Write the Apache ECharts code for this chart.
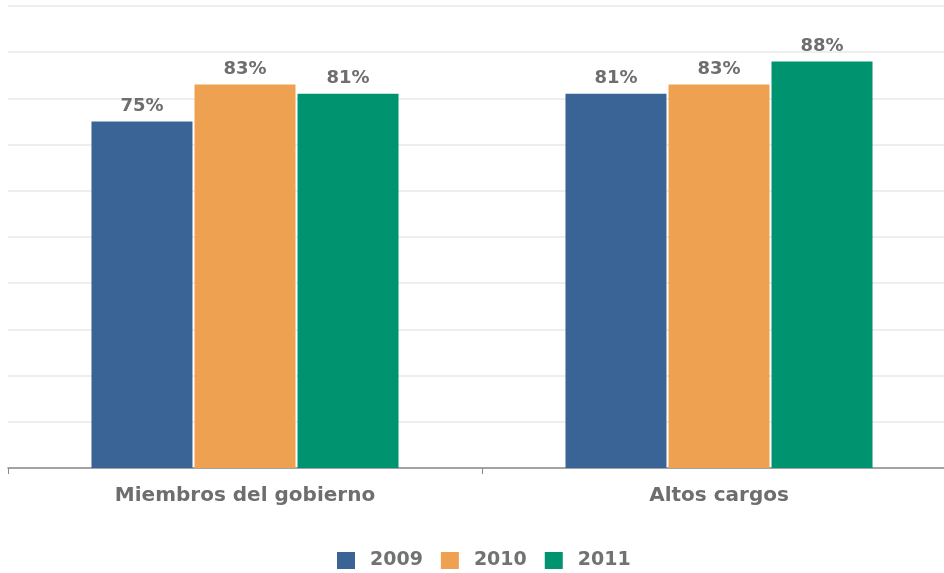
<!DOCTYPE html>
<html>
<head>
<meta charset="utf-8">
<script src="https://cdn.jsdelivr.net/npm/echarts@6/dist/echarts.min.js"></script>
<style>
  html, body { margin: 0; padding: 0; background: #ffffff; }
  #chart { width: 944px; height: 573px; }
</style>
</head>
<body>
<div id="chart"></div>
<script>
// Categories, years and percentages
const categories = ['Miembros del gobierno', 'Altos cargos'];
const years = ['2009', '2010', '2011'];
const values2009 = [75, 81];
const values2010 = [83, 83];
const values2011 = [81, 88];
const seriesValues = [values2009, values2010, values2011];
const colors = ['#3a6496', '#eea150', '#009370'];

const chart = echarts.init(document.getElementById('chart'));

const labelFont = {
  fontFamily: 'DejaVu Sans',
  fontWeight: 'bold',
  color: '#6e6e6e'
};

chart.setOption({
  animation: false,
  legend: {
    data: years,
    top: 551,
    left: 337,
    padding: 0,
    icon: 'rect',
    itemWidth: 18,
    itemHeight: 17,
    itemGap: 18,
    textStyle: { ...labelFont, fontSize: 19, color: '#727272', padding: [0, 0, 0, 10] }
  },
  // plot area runs a little past the right edge of the canvas
  grid: {
    left: 8, width: 948, top: 6, height: 462,
    containLabel: false,
    outerBoundsMode: 'none'
  },
  xAxis: {
    type: 'category',
    data: categories,
    axisLine: { lineStyle: { color: '#8a8a8a', width: 1.5 } },
    axisTick: { show: true, length: 6, lineStyle: { color: '#8a8a8a' } },
    axisLabel: { ...labelFont, fontSize: 20, margin: 18 }
  },
  yAxis: {
    type: 'value',
    min: 0,
    max: 100,
    interval: 10,
    axisLine: { show: false },
    axisTick: { show: false },
    axisLabel: { show: false },
    splitLine: { lineStyle: { color: '#e8e8e8', width: 1.5 } }
  },
  series: years.map((y, i) => ({
    name: y,
    type: 'bar',
    data: seriesValues[i],
    barWidth: 101,
    barGap: '2%',
    itemStyle: { color: colors[i] },
    label: {
      show: true,
      position: 'top',
      distance: 6,
      formatter: '{c}%',
      ...labelFont,
      fontSize: 18
    }
  }))
});
</script>
</body>
</html>
